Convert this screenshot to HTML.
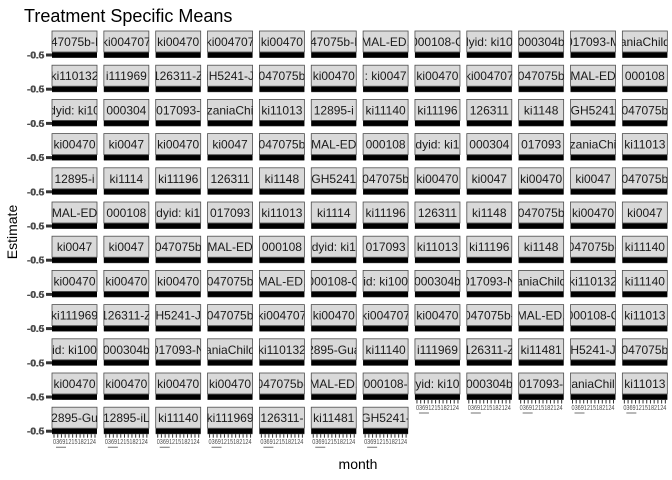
<!DOCTYPE html>
<html><head><meta charset="utf-8"><style>
html,body{margin:0;padding:0;background:#fff;}
svg{display:block;font-family:"Liberation Sans",sans-serif;}
</style></head><body>
<svg id="chart" width="672" height="480" viewBox="0 0 672 480">
<text x="24" y="22" font-size="18" fill="#000">Treatment Specific Means</text>
<text x="0" y="0" font-size="14" fill="#000" transform="translate(17,232) rotate(-90)" text-anchor="middle">Estimate</text>
<text x="358" y="469" font-size="14" fill="#000" text-anchor="middle">month</text>
<g id="panels"></g>
</svg>
<script>
const stripLabels = [
"47075b-I","ki004707","ki00470","ki004707","ki00470","47075b-I","MAL-ED,","000108-C","lyid: ki10","000304b","017093-M","aniaChild",
"ki110132","i111969","126311-Z","iH5241-J","047075b","ki00470",": ki0047","ki00470","ki004707","047075b","MAL-ED","000108",
"dyid: ki10","000304","017093-","zaniaChi","ki11013","12895-i","ki11140","ki11196","126311","ki1148","GH5241","047075b",
"ki00470","ki0047","ki00470","ki0047","047075b","MAL-ED","000108","dyid: ki1","000304","017093","zaniaChi","ki11013",
"12895-i","ki1114","ki11196","126311","ki1148","GH5241","047075b","ki00470","ki0047","ki00470","ki0047","047075b",
"MAL-ED","000108","dyid: ki1","017093","ki11013","ki1114","ki11196","126311","ki1148","047075b","ki00470","ki0047",
"ki0047","ki0047","047075b","MAL-ED","000108","dyid: ki1","017093","ki11013","ki11196","ki1148","047075b-","ki11140",
"ki00470","ki00470","ki00470","047075b","MAL-ED,","000108-C","id: ki100","000304b","017093-N","aniaChild","ki110132","ki11140",
"ki111969","126311-Z","H5241-J","047075b","ki004707","ki00470","ki004707","ki00470","047075b-","MAL-ED,","000108-C","ki11013",
"id: ki100","000304b","017093-N","aniaChild","ki110132","2895-Gua","ki11140","i111969","126311-Z","ki11481","H5241-J","047075b",
"ki00470","ki00470","ki00470","ki00470","047075b-","MAL-ED,","000108-","yid: ki10","000304b","017093-","aniaChil","ki11013",
"2895-Gu","12895-iL","ki11140","ki111969","126311-","ki11481","GH5241-"
];
const months = [0,3,6,9,12,15,18,21,24];
const estimates = [-0.6,-0.6,-0.6,-0.6,-0.6,-0.6,-0.6,-0.6,-0.6];
const yTicks = ["-0.6","-0.5"];
const ncol = 12, nrow = 12;
const NS = "http://www.w3.org/2000/svg";
const g = document.getElementById("panels");
const colX = c => 52 + c * 51.85;
const rowY = r => 31 + r * 34.2;
const pw = 45, sh = 21, ph = 6;
const xScale = (m, x0) => x0 + (m - months[0]) / (months[months.length-1] - months[0]) * pw;
const yScale = (v, y0) => y0 + ph/2 - (v + 0.6) * 20;
function mk(tag, attrs){const e=document.createElementNS(NS,tag);for(const k in attrs)e.setAttribute(k,attrs[k]);return e;}
const n = stripLabels.length;
for (let i = 0; i < n; i++) {
  const r = Math.floor(i / ncol), c = i % ncol;
  const x0 = colX(c), y0 = rowY(r);
  const pg = mk("g", {});
  
  
  const cp = mk("clipPath", {id: "cp" + i});
  cp.appendChild(mk("rect", {x: x0, y: y0, width: pw, height: sh}));
  pg.appendChild(cp);
  const strip = mk("rect", {x: x0, y: y0, width: pw, height: sh, fill: "#d9d9d9", stroke: "#4d4d4d", "stroke-width": 0.8});
  
  
  pg.appendChild(strip);
  const t = mk("text", {x: x0 + pw/2, y: y0 + 15, "font-size": 12, fill: "#1a1a1a", "text-anchor": "middle", "clip-path": "url(#cp" + i + ")"});
  t.textContent = stripLabels[i];
  
  
  pg.appendChild(t);
  const py = y0 + sh;
  const bg = mk("rect", {x: x0, y: py, width: pw, height: ph, fill: "#555"});
  
  
  pg.appendChild(bg);
  const pts = months.map((m, k) => xScale(m, x0) + "," + yScale(estimates[k], py)).join(" ");
  const line = mk("polyline", {points: pts, fill: "none", stroke: "#000", "stroke-width": 5});
  
  
  pg.appendChild(line);
  g.appendChild(pg);
  if (c === 0) {
    const yt = yScale(-0.6, py);
    yTicks.forEach((lbl, j) => {
      const tl = mk("text", {x: 44 + j * 0.6, y: yt + 3.5, "font-size": 10, "font-weight": "bold", fill: "#4d4d4d", "text-anchor": "end"});
      tl.textContent = lbl;
      
      
      g.appendChild(tl);
    });
    const tk = mk("line", {x1: 46, x2: 52, y1: yt, y2: yt, stroke: "#333", "stroke-width": 3});
    
    
    g.appendChild(tk);
  }
  const isBottom = (i + ncol >= n);
  if (isBottom) {
    const by = py + ph;
    for (let k = 0; k < 12; k++) {
      const tx = x0 + 2 + k * (pw - 4) / 11;
      const tm = mk("line", {x1: tx, x2: tx, y1: by, y2: by + 3.5, stroke: "#333", "stroke-width": 1});
      
      
      g.appendChild(tm);
    }
    const xl = mk("text", {x: x0 + 1, y: by + 10, "font-size": 7, fill: "#4d4d4d", textLength: pw - 2, lengthAdjust: "spacingAndGlyphs"});
    xl.textContent = months.join("");
    
    
    g.appendChild(xl);
    const ul = mk("line", {x1: x0 + 4, x2: x0 + 14, y1: by + 13, y2: by + 13, stroke: "#4d4d4d", "stroke-width": 0.8});
    
    
    g.appendChild(ul);
  }
}
</script>
</body></html>
